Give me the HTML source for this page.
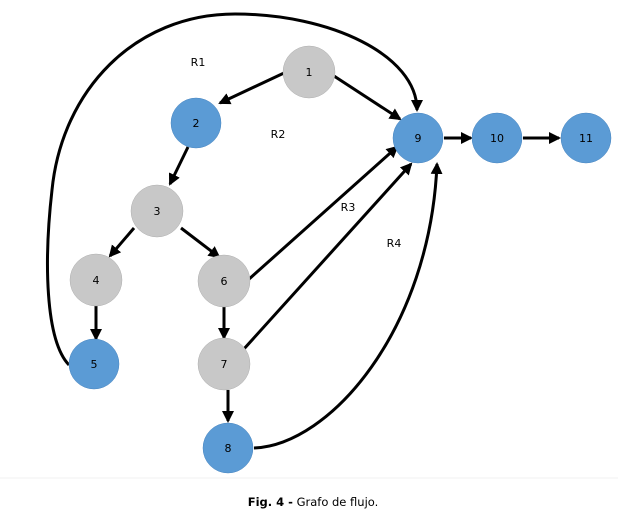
<!DOCTYPE html>
<html><head><meta charset="utf-8"><style>
html,body{margin:0;padding:0;background:#fff;}
svg{display:block;}
text{font-family:"DejaVu Sans","Liberation Sans",sans-serif;}
</style></head><body>
<svg width="618" height="518" viewBox="0 0 618 518" xmlns="http://www.w3.org/2000/svg">
<defs>
<marker id="a" markerWidth="8" markerHeight="8" refX="6" refY="4" orient="auto" markerUnits="userSpaceOnUse" viewBox="0 0 8 8">
<path d="M0,0 L8,4 L0,8 z" fill="#000"/>
</marker>
<marker id="b" markerWidth="12" markerHeight="12" refX="10" refY="6" orient="auto" markerUnits="userSpaceOnUse" viewBox="0 0 12 12">
<path d="M0,0 L12,6 L0,12 z" fill="#000"/>
</marker>
</defs>
<g stroke="#000" stroke-width="3" fill="none">
<path d="M69,365 C45,340 44,260 52,190 C62,90 135,14 235,14 C330,14 417,55 417,110" marker-end="url(#b)"/>
<path d="M254,448 C330,445 430,330 437,164" marker-end="url(#b)"/>
<line x1="284" y1="73" x2="220" y2="103" marker-end="url(#b)"/>
<line x1="334" y1="76" x2="400" y2="119" marker-end="url(#b)"/>
<line x1="188" y1="147" x2="170" y2="184" marker-end="url(#b)"/>
<line x1="134" y1="228" x2="110" y2="256" marker-end="url(#b)"/>
<line x1="181" y1="228" x2="219" y2="257" marker-end="url(#b)"/>
<line x1="96" y1="305" x2="96" y2="339" marker-end="url(#b)"/>
<line x1="248" y1="280" x2="397" y2="147" marker-end="url(#b)"/>
<line x1="243" y1="350" x2="411" y2="164" marker-end="url(#b)"/>
<line x1="224" y1="306" x2="224" y2="338" marker-end="url(#b)"/>
<line x1="228" y1="390" x2="228" y2="421" marker-end="url(#b)"/>
<line x1="444" y1="138" x2="471" y2="138" marker-end="url(#b)"/>
<line x1="523" y1="138" x2="559" y2="138" marker-end="url(#b)"/>
</g>
<g stroke="#b0b0b0" stroke-width="0.5">
<circle cx="309" cy="72" r="26" fill="#c8c8c8"/>
<circle cx="157" cy="211" r="26" fill="#c8c8c8"/>
<circle cx="96" cy="280" r="26" fill="#c8c8c8"/>
<circle cx="224" cy="281" r="26" fill="#c8c8c8"/>
<circle cx="224" cy="364" r="26" fill="#c8c8c8"/>
</g>
<g stroke="#4a86c0" stroke-width="0.5" fill="#5b9bd5">
<circle cx="196" cy="123" r="25"/>
<circle cx="418" cy="138" r="25"/>
<circle cx="497" cy="138" r="25"/>
<circle cx="586" cy="138" r="25"/>
<circle cx="94" cy="364" r="25"/>
<circle cx="228" cy="448" r="25"/>
</g>
<g font-size="11" fill="#000" text-anchor="middle">
<text x="309" y="76">1</text>
<text x="196" y="127">2</text>
<text x="157" y="215">3</text>
<text x="96" y="284">4</text>
<text x="94" y="368">5</text>
<text x="224" y="285">6</text>
<text x="224" y="368">7</text>
<text x="228" y="452">8</text>
<text x="418" y="142">9</text>
<text x="497" y="142">10</text>
<text x="586" y="142">11</text>
<text x="198" y="66">R1</text>
<text x="278" y="138">R2</text>
<text x="348" y="211">R3</text>
<text x="394" y="247">R4</text>
</g>
<line x1="0" y1="478" x2="618" y2="478" stroke="#f0f0f0" stroke-width="1"/>
<text x="313" y="506" font-size="11.5" text-anchor="middle"><tspan font-weight="bold">Fig. 4 -</tspan> Grafo de flujo.</text>
</svg>
</body></html>
